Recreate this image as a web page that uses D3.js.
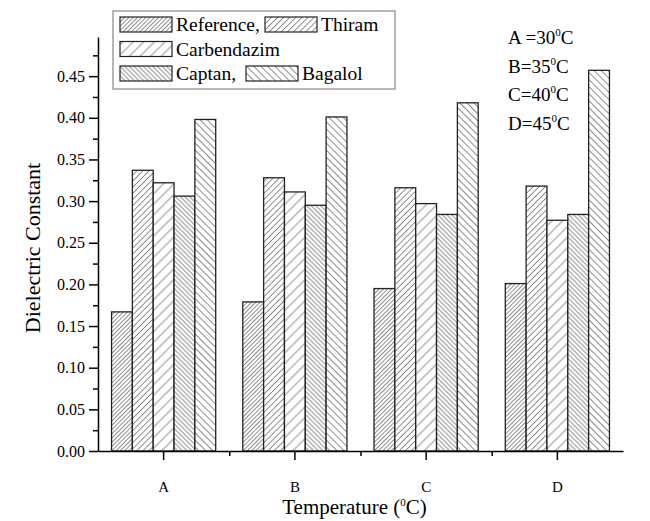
<!DOCTYPE html>
<html>
<head>
<meta charset="utf-8">
<script src="https://cdn.jsdelivr.net/npm/d3@7"></script>
<style>
  body { margin: 0; background: #fff; }
  svg { display: block; font-family: "Liberation Serif", "Times New Roman", serif; }
  .axis path, .axis line { stroke: #000; stroke-width: 1.5px; }
  .axis text { font-size: 16px; fill: #000; font-family: "Liberation Serif", serif; }
</style>
</head>
<body>
<svg id="chart" width="650" height="521"></svg>
<script>
// data
const categories = ['A', 'B', 'C', 'D'];
const seriesNames = ['Reference', 'Thiram', 'Carbendazim', 'Captan', 'Bagalol'];
const reference = [0.167, 0.179, 0.195, 0.201];
const thiram = [0.337, 0.328, 0.316, 0.318];
const carbendazim = [0.322, 0.311, 0.297, 0.277];
const captan = [0.306, 0.295, 0.284, 0.284];
const bagalol = [0.398, 0.401, 0.418, 0.457];
const yMajorTicks = [0, 0.05, 0.10, 0.15, 0.20, 0.25, 0.30, 0.35, 0.40, 0.45];
const yMinorTicks = [0.025, 0.075, 0.125, 0.175, 0.225, 0.275, 0.325, 0.375, 0.425, 0.475];
const tempNotes = [['A =30', 'C'], ['B=35', 'C'], ['C=40', 'C'], ['D=45', 'C']];

const values = [reference, thiram, carbendazim, captan, bagalol];

// hatch styles: spacing between lines (px) and angle
const hatches = [
  {spacing: 3.0, angle: 45},
  {spacing: 4.3, angle: 45},
  {spacing: 7.5, angle: 45},
  {spacing: 3.3, angle: -45},
  {spacing: 5.0, angle: -45}
];

const svg = d3.select('#chart');
const defs = svg.append('defs');

hatches.forEach((h, i) => {
  const p = defs.append('pattern')
    .attr('id', 'hatch' + i)
    .attr('patternUnits', 'userSpaceOnUse')
    .attr('width', h.spacing)
    .attr('height', 10)
    .attr('patternTransform', 'rotate(' + h.angle + ')');
  p.append('rect').attr('width', h.spacing).attr('height', 10).attr('fill', '#fff');
  p.append('line')
    .attr('x1', h.spacing / 2).attr('x2', h.spacing / 2)
    .attr('y1', 0).attr('y2', 10)
    .attr('stroke', '#808080').attr('stroke-width', 0.9);
});

const mLeft = 98, mRight = 623, mTop = 37, mBottom = 451;

const x = d3.scaleBand().domain(categories).range([mLeft, mRight]).padding(0);
const xInner = d3.scaleBand().domain(seriesNames).range([0, x.bandwidth()]).paddingInner(0).paddingOuter(0.65);
const y = d3.scaleLinear().domain([0, 0.497]).range([mBottom, mTop]);

// bars
const groups = svg.append('g').selectAll('g')
  .data(categories)
  .join('g')
  .attr('transform', d => 'translate(' + x(d) + ',0)');

groups.selectAll('rect')
  .data((c, ci) => seriesNames.map((s, si) => ({s: s, si: si, v: values[si][ci]})))
  .join('rect')
  .attr('x', d => xInner(d.s))
  .attr('y', d => y(d.v))
  .attr('width', xInner.bandwidth())
  .attr('height', d => y(0) - y(d.v))
  .attr('fill', d => 'url(#hatch' + d.si + ')')
  .attr('stroke', '#222')
  .attr('stroke-width', 1.3);

// y axis
svg.append('g').attr('class', 'axis')
  .attr('transform', 'translate(' + mLeft + ',0)')
  .call(d3.axisLeft(y).tickValues(yMajorTicks).tickFormat(d3.format('.2f')).tickSize(9).tickSizeOuter(0).tickPadding(4));
svg.append('g').attr('class', 'axis')
  .attr('transform', 'translate(' + mLeft + ',0)')
  .call(d3.axisLeft(y).tickValues(yMinorTicks).tickFormat('').tickSize(5).tickSizeOuter(0))
  .select('.domain').remove();

// x axis
svg.append('g').attr('class', 'axis')
  .attr('transform', 'translate(0,' + mBottom + ')')
  .call(d3.axisBottom(x).tickSize(9).tickSizeOuter(0).tickPadding(21))
  .selectAll('text').style('font-size', '15px');
const xIdx = d3.scaleLinear().domain([0, categories.length]).range([mLeft, mRight]);
svg.append('g').attr('class', 'axis')
  .attr('transform', 'translate(0,' + mBottom + ')')
  .call(d3.axisBottom(xIdx).tickValues([1, 2, 3]).tickFormat('').tickSize(5).tickSizeOuter(0))
  .select('.domain').remove();

// axis titles
svg.append('text')
  .attr('transform', 'translate(40,248) rotate(-90)')
  .attr('text-anchor', 'middle')
  .style('font-size', '22px')
  .text('Dielectric Constant');

const xt = svg.append('text')
  .attr('x', (mLeft + mRight) / 2 - 6)
  .attr('y', 514)
  .attr('text-anchor', 'middle')
  .style('font-size', '21px');
xt.append('tspan').text('Temperature (');
xt.append('tspan').attr('dy', -8).style('font-size', '11px').text('0');
xt.append('tspan').attr('dy', 8).text('C)');

// legend
const legend = svg.append('g');
legend.append('rect')
  .attr('x', 113).attr('y', 11).attr('width', 282).attr('height', 78)
  .attr('fill', '#fff').attr('stroke', '#888').attr('stroke-width', 1.2);

const legendItems = [
  {i: 0, label: 'Reference,', x: 120, row: 0},
  {i: 1, label: 'Thiram', x: 265, row: 0},
  {i: 2, label: 'Carbendazim', x: 120, row: 1},
  {i: 3, label: 'Captan,', x: 120, row: 2},
  {i: 4, label: 'Bagalol', x: 246, row: 2}
];
legendItems.forEach(it => {
  const ry = 17 + it.row * 24.5;
  legend.append('rect')
    .attr('x', it.x).attr('y', ry).attr('width', 52).attr('height', 15)
    .attr('fill', 'url(#hatch' + it.i + ')')
    .attr('stroke', '#222').attr('stroke-width', 1.2);
  legend.append('text')
    .attr('x', it.x + 56).attr('y', ry + 14)
    .style('font-size', '19.5px')
    .text(it.label);
});

// temperature notes
tempNotes.forEach((n, i) => {
  const t = svg.append('text')
    .attr('x', 508).attr('y', 44 + i * 28.5)
    .style('font-size', '19px');
  t.append('tspan').text(n[0]);
  t.append('tspan').attr('dy', -8).style('font-size', '11px').text('0');
  t.append('tspan').attr('dy', 8).text(n[1]);
});
</script>
</body>
</html>
